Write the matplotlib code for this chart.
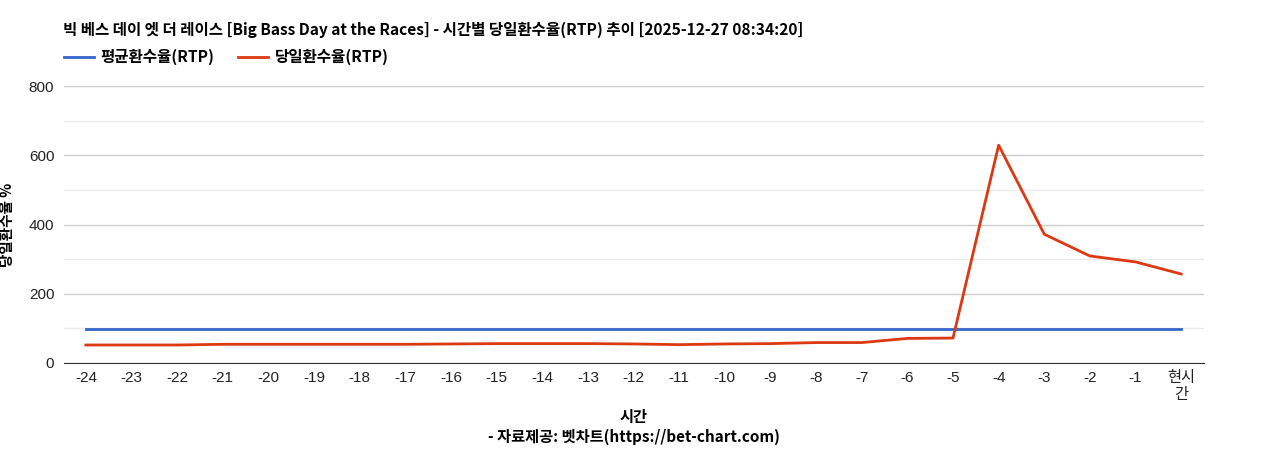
import matplotlib

matplotlib.use("Agg")
import matplotlib.pyplot as plt
from matplotlib.ticker import MultipleLocator

plt.rcParams["font.family"] = ["Noto Sans CJK KR", "DejaVu Sans"]

TITLE = "빅 베스 데이 엣 더 레이스 [Big Bass Day at the Races] - 시간별 당일환수율(RTP) 추이 [2025-12-27 08:34:20]"
hours = ["-24", "-23", "-22", "-21", "-20", "-19", "-18", "-17", "-16", "-15", "-14", "-13",
         "-12", "-11", "-10", "-9", "-8", "-7", "-6", "-5", "-4", "-3", "-2", "-1", "현시\n간"]
avg_rtp = [97] * 25
day_rtp = [52, 52, 52, 54, 54, 54, 54, 54, 55, 56, 56, 56,
           55, 53, 55, 56, 59, 59, 71, 72, 629, 372, 309, 292, 257]

BLUE = "#3366CC"
RED = "#DC3912"
TICK_FONT = ["Liberation Sans", "Noto Sans CJK KR"]

fig = plt.figure(figsize=(12.68, 4.5), dpi=100)
ax = fig.add_axes([64 / 1268, 87 / 450, 1140 / 1268, 277 / 450])

x = list(range(len(hours)))
ax.plot(x, avg_rtp, color=BLUE, lw=2, label="평균환수율(RTP)")
ax.plot(x, day_rtp, color=RED, lw=2, label="당일환수율(RTP)")

ax.set_xlim(-0.48, 24.5)
ax.set_ylim(0, 800)
ax.yaxis.set_major_locator(MultipleLocator(200))
ax.yaxis.set_minor_locator(MultipleLocator(100))
ax.grid(which="major", axis="y", color="#CCCCCC", lw=1)
ax.grid(which="minor", axis="y", color="#EBEBEB", lw=1)
ax.set_axisbelow(True)
for s in ("top", "right", "left"):
    ax.spines[s].set_visible(False)
ax.spines["bottom"].set_color("#333333")
ax.tick_params(axis="both", which="both", length=0, colors="#222222")
ax.tick_params(axis="x", pad=6)
ax.tick_params(axis="y", pad=7)

ax.set_xticks(x)
ax.set_xticklabels(hours, fontsize=11, family=TICK_FONT, linespacing=1.25)
for lab in ax.get_yticklabels():
    lab.set_fontsize(11)
    lab.set_family(TICK_FONT)

ax.set_ylabel("당일환수율 %", fontsize=10.5, fontweight="bold")
ax.yaxis.set_label_coords(-0.043, 0.5)
ax.set_xlabel("시간", fontsize=11, fontweight="bold", labelpad=5)
fig.text(0.5, 13 / 450, "- 자료제공: 벳차트(https://bet-chart.com)", ha="center", va="center",
         fontsize=11, fontweight="bold")

fig.text(63 / 1268, 1 - 30 / 450, TITLE, ha="left", va="center", fontsize=11.2, fontweight="bold")
fig.legend(loc="upper left", bbox_to_anchor=(58 / 1268, 1 - 43 / 450), ncol=2, frameon=False,
           prop={"weight": "bold", "size": 11.2}, handlelength=1.9, handletextpad=0.45,
           columnspacing=1.5, borderaxespad=0)

fig.savefig("out.png", dpi=100, facecolor="white")
